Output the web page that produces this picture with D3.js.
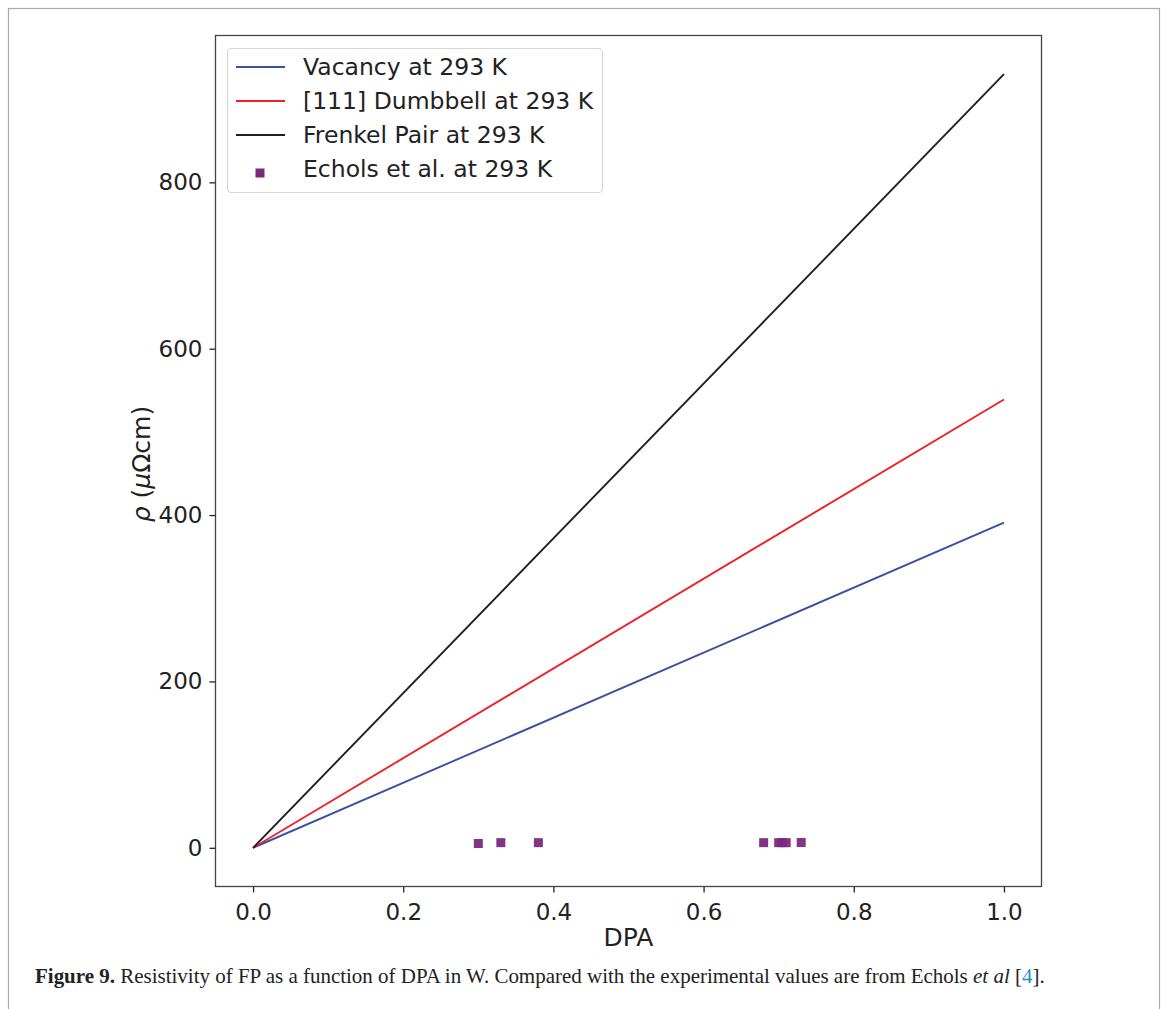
<!DOCTYPE html>
<html>
<head>
<meta charset="utf-8">
<title>Resistivity of FP vs DPA</title>
<script src="https://d3js.org/d3.v7.min.js"></script>
<style>
  body { margin: 0; background: #fff; }
  text { fill: #222; }
</style>
</head>
<body>
<svg id="chart"></svg>
<script>
// data
var dpaEnds = [0, 1.0]
var vacancy = [0, 391]
var dumbbell = [0, 539]
var frenkel = [0, 930]
var echolsX = [0.30, 0.33, 0.38, 0.68, 0.70, 0.705, 0.71, 0.73]
var echolsY = [5.2, 6.2, 6.2, 6.2, 6.2, 6.2, 6.2, 6.4]
var xTicks = [0, 0.2, 0.4, 0.6, 0.8, 1.0]
var yTicks = [0, 200, 400, 600, 800]
var legendLabels = ['Vacancy at 293 K', '[111] Dumbbell at 293 K', 'Frenkel Pair at 293 K', 'Echols et al. at 293 K']

var W = 1166, H = 1009
var plot = { left: 215.5, top: 35.5, right: 1041.5, bottom: 886.5 }
var font = 'DejaVu Sans, sans-serif'

var svg = d3.select('#chart').attr('width', W).attr('height', H)

// page frame
svg.append('rect')
    .attr('x', 8.5).attr('y', 8.5).attr('width', 1151).attr('height', 1020)
    .attr('fill', 'none').attr('stroke', '#aaa').attr('stroke-width', 1.2)

var x = d3.scaleLinear().domain([-0.05, 1.05]).range([plot.left, plot.right])
var y = d3.scaleLinear().domain([-46.5, 976.5]).range([plot.bottom, plot.top])

var series = [
    { vals: vacancy, color: '#3a50a2' },
    { vals: dumbbell, color: '#ec2127' },
    { vals: frenkel, color: '#231f20' }
]

var line = d3.line().x(function (d) { return x(d[0]) }).y(function (d) { return y(d[1]) })

series.forEach(function (s) {
    svg.append('path')
        .datum(dpaEnds.map(function (v, i) { return [v, s.vals[i]] }))
        .attr('d', line)
        .attr('fill', 'none')
        .attr('stroke', s.color)
        .attr('stroke-width', 1.9)
})

var purple = '#7b2a7e'
svg.append('g').selectAll('rect')
    .data(echolsX)
    .join('rect')
    .attr('x', function (d) { return x(d) - 4.5 })
    .attr('y', function (d, i) { return y(echolsY[i]) - 4.5 })
    .attr('width', 9).attr('height', 9)
    .attr('fill', purple)
    .attr('fill-opacity', 0.95)

// axes
var xAxis = svg.append('g')
    .attr('transform', `translate(0,${plot.bottom})`)
    .call(d3.axisBottom(x).tickValues(xTicks).tickFormat(d3.format('.1f')).tickSize(6).tickPadding(7))
var yAxis = svg.append('g')
    .attr('transform', `translate(${plot.left},0)`)
    .call(d3.axisLeft(y).tickValues(yTicks).tickSize(6).tickPadding(7))

;[xAxis, yAxis].forEach(function (a) {
    a.select('.domain').remove()
    a.selectAll('line').attr('stroke', '#222').attr('stroke-width', 1.3)
    a.selectAll('text').style('font', `23px ${font}`).attr('fill', '#222')
})
xAxis.selectAll('text').attr('dy', '0.9em')

// spines
svg.append('rect')
    .attr('x', plot.left).attr('y', plot.top)
    .attr('width', plot.right - plot.left).attr('height', plot.bottom - plot.top)
    .attr('fill', 'none').attr('stroke', '#444').attr('stroke-width', 1.3)

// axis labels
svg.append('text')
    .attr('x', (plot.left + plot.right) / 2).attr('y', 946)
    .attr('text-anchor', 'middle')
    .style('font', `25px ${font}`)
    .text('DPA')

var ylab = svg.append('text')
    .attr('transform', `translate(150,${(plot.top + plot.bottom) / 2 + 3}) rotate(-90)`)
    .attr('text-anchor', 'middle')
    .style('font', `25px ${font}`)
ylab.append('tspan').style('font-style', 'italic').text('ρ')
ylab.append('tspan').text(' (')
ylab.append('tspan').style('font-style', 'italic').text('μ')
ylab.append('tspan').text('Ωcm)')

// legend
var lg = svg.append('g')
lg.append('rect')
    .attr('x', 227.5).attr('y', 48.5).attr('width', 375).attr('height', 144)
    .attr('rx', 4).attr('fill', '#fff').attr('fill-opacity', 0.8)
    .attr('stroke', '#d6d6d6').attr('stroke-width', 1.2)

var rowY = [67, 101, 135, 169]
legendLabels.forEach(function (lab, i) {
    if (i < 3) {
        lg.append('line')
            .attr('x1', 236).attr('x2', 285).attr('y1', rowY[i]).attr('y2', rowY[i])
            .attr('stroke', series[i].color).attr('stroke-width', 1.9)
    } else {
        lg.append('rect')
            .attr('x', 260 - 4.5).attr('y', rowY[i] + 4 - 4.5).attr('width', 9).attr('height', 9)
            .attr('fill', purple)
    }
    lg.append('text')
        .attr('x', 303).attr('y', rowY[i] + 8)
        .style('font', `23.5px ${font}`)
        .text(lab)
})

// caption
var cap = svg.append('text')
    .attr('x', 35).attr('y', 983)
    .style('font', '20px "Liberation Serif", serif')
    .attr('fill', '#111')
cap.append('tspan').style('font-weight', 'bold').text('Figure 9.')
cap.append('tspan').text(' Resistivity of FP as a function of DPA in W. Compared with the experimental values are from Echols ')
cap.append('tspan').style('font-style', 'italic').text('et al')
cap.append('tspan').text(' [')
cap.append('tspan').style('fill', '#2b8fcb').text('4')
cap.append('tspan').text('].')

// stretch caption to the width it has in the figure
var capW = cap.node().getComputedTextLength()
var fs = 20 * 1010 / capW
cap.style('font-size', fs + 'px')
</script>
</body>
</html>
